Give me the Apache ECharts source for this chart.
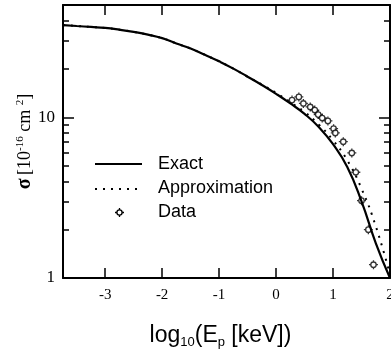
<!DOCTYPE html>
<html>
<head>
<meta charset="utf-8">
<script src="https://cdn.jsdelivr.net/npm/echarts@6/dist/echarts.min.js"></script>
<style>
  html, body { margin: 0; padding: 0; background: #fff; }
  #main { width: 391px; height: 356px; }
</style>
</head>
<body>
<div id="main"></div>
<script>
// exact cross section curve
const exactX = [-3.74, -3.5, -3.25, -3, -2.75, -2.5, -2.25, -2, -1.75, -1.5, -1.25, -1, -0.75, -0.5, -0.25, 0, 0.25, 0.5, 0.75, 1, 1.25, 1.5, 1.75, 2];
const exactY = [37.5, 37.0, 36.5, 36.0, 35.1, 34.0, 32.7, 31.1, 28.8, 26.8, 24.5, 22.3, 20.1, 17.9, 15.9, 14.0, 12.2, 10.5, 8.7, 6.8, 4.9, 3.0, 1.65, 1.0];
// approximation
const approxX = [-3.74, -3.5, -3.25, -3, -2.75, -2.5, -2.25, -2, -1.75, -1.5, -1.25, -1, -0.75, -0.5, -0.25, 0, 0.25, 0.5, 0.75, 1, 1.25, 1.5, 1.75, 2];
const approxY = [37.5, 37.0, 36.5, 36.0, 35.1, 34.0, 32.7, 31.1, 28.8, 26.8, 24.5, 22.3, 20.1, 17.9, 16.0, 14.2, 12.4, 10.8, 9.0, 7.2, 5.4, 3.6, 2.1, 1.05];
// measured points
const dataX = [0.28, 0.40, 0.48, 0.60, 0.68, 0.74, 0.81, 0.91, 1.01, 1.04, 1.18, 1.33, 1.40, 1.50, 1.62, 1.71];
const dataY = [12.8, 13.4, 12.2, 11.6, 11.1, 10.4, 9.9, 9.5, 8.5, 8.0, 7.05, 6.0, 4.55, 3.03, 2.0, 1.21];

const xTicks = [-3, -2, -1, 0, 1, 2];
const yMajor = [1, 10];
const yMinor = [2, 3, 4, 5, 6, 7, 8, 9, 20, 30, 40];
const legendNames = ['Exact', 'Approximation', 'Data'];

const sans = 'Liberation Sans';
const serif = 'Liberation Serif';
// small ring with four spikes
const markerD = 'M0,-5 L0,-3 M0,3 L0,5 M-5,0 L-3,0 M3,0 L5,0 M-3,0 A3,3 0 1,0 3,0 A3,3 0 1,0 -3,0 Z';
const lineCol = '#000';

const zip = (xs, ys) => xs.map((x, i) => [x, ys[i]]);

const xAxisBase = (pos) => ({
  type: 'value',
  position: pos,
  min: -3.74,
  max: 2,
  axisLine: {onZero: false, lineStyle: {color: lineCol, width: 2}},
  axisTick: {inside: true, length: 10, customValues: xTicks, lineStyle: {color: lineCol, width: 1.5}},
  axisLabel: {show: false},
  splitLine: {show: false}
});

const yAxisBase = (pos, ticks, len, labels) => ({
  type: 'log',
  logBase: 10,
  position: pos,
  min: 1,
  max: 50,
  axisLine: {show: labels !== null, onZero: false, lineStyle: {color: lineCol, width: 2}},
  axisTick: {inside: true, length: len, customValues: ticks, lineStyle: {color: lineCol, width: 1.5}},
  axisLabel: labels ? {show: true, customValues: labels, color: '#000', fontFamily: serif, fontSize: 17, margin: 8} : {show: false},
  splitLine: {show: false}
});

const chart = echarts.init(document.getElementById('main'));

const xBottom = xAxisBase('bottom');
xBottom.axisLabel = {show: true, customValues: xTicks, color: '#000', fontFamily: serif, fontSize: 15, margin: 10};
xBottom.name = '{a|log}{s|10}{a|(E}{s|p}{a| [keV])}';
xBottom.nameLocation = 'middle';
xBottom.nameGap = 45;
xBottom.nameTextStyle = {
  padding: [0, 12, 0, 0],
  rich: {
    a: {fontFamily: sans, fontSize: 23, lineHeight: 26, color: '#000'},
    s: {fontFamily: sans, fontSize: 13, lineHeight: 13, padding: [13, 0, 0, 0], color: '#000'}
  }
};

const yLeft = yAxisBase('left', yMajor, 11, yMajor);
yLeft.name = '{g|σ} {a|[10}{u|-16}{a| cm }{u|2}{a|]}';
yLeft.nameLocation = 'middle';
yLeft.nameRotate = 90;
yLeft.nameGap = 27;
yLeft.nameMoveOverlap = false;
yLeft.nameTextStyle = {
  rich: {
    g: {fontFamily: serif, fontSize: 20, fontWeight: 'bold', lineHeight: 22, color: '#000'},
    a: {fontFamily: serif, fontSize: 18, lineHeight: 22, color: '#000'},
    u: {fontFamily: serif, fontSize: 11, lineHeight: 11, padding: [0, 0, 10, 0], color: '#000'}
  }
};

chart.setOption({
  animation: false,
  backgroundColor: '#fff',
  grid: {left: 63, right: 1, top: 5, bottom: 78, outerBoundsMode: 'none'},
  xAxis: [xBottom, xAxisBase('top')],
  yAxis: [
    yLeft,
    yAxisBase('left', yMinor, 6, null),
    yAxisBase('right', yMajor, 11, false),
    yAxisBase('right', yMinor, 6, null)
  ],
  series: [
    {
      name: legendNames[0], type: 'line', data: zip(exactX, exactY),
      smooth: 0.5, showSymbol: false,
      lineStyle: {color: lineCol, width: 2.2}
    },
    {
      name: legendNames[1], type: 'line', data: zip(approxX, approxY),
      smooth: 0.5, showSymbol: false,
      lineStyle: {color: lineCol, width: 2, type: [2, 6]}
    },
    {
      name: legendNames[2], type: 'scatter', data: zip(dataX, dataY),
      symbol: 'path://' + markerD, symbolSize: 9,
      itemStyle: {color: '#fff', borderColor: lineCol, borderWidth: 1.3}
    }
  ],
  graphic: [
    {type: 'line', shape: {x1: 95, y1: 164, x2: 142, y2: 164}, style: {stroke: lineCol, lineWidth: 2.2}},
    {type: 'line', shape: {x1: 95, y1: 189, x2: 142, y2: 189}, style: {stroke: lineCol, lineWidth: 2, lineDash: [2, 6]}},
    {type: 'circle', shape: {cx: 119.5, cy: 212.5, r: 2.6}, style: {fill: '#fff', stroke: lineCol, lineWidth: 1.3}},
    {type: 'polyline', shape: {points: [[119.5, 208], [119.5, 209.9]]}, style: {stroke: lineCol, lineWidth: 1.3}},
    {type: 'polyline', shape: {points: [[119.5, 215.1], [119.5, 217]]}, style: {stroke: lineCol, lineWidth: 1.3}},
    {type: 'polyline', shape: {points: [[115, 212.5], [116.9, 212.5]]}, style: {stroke: lineCol, lineWidth: 1.3}},
    {type: 'polyline', shape: {points: [[122.1, 212.5], [124, 212.5]]}, style: {stroke: lineCol, lineWidth: 1.3}},
    ...legendNames.map((t, i) => ({
      type: 'text', x: 158, y: 164 + i * 24,
      style: {text: t, fill: '#000', font: '18px "Liberation Sans"', verticalAlign: 'middle'}
    }))
  ]
});
</script>
</body>
</html>
